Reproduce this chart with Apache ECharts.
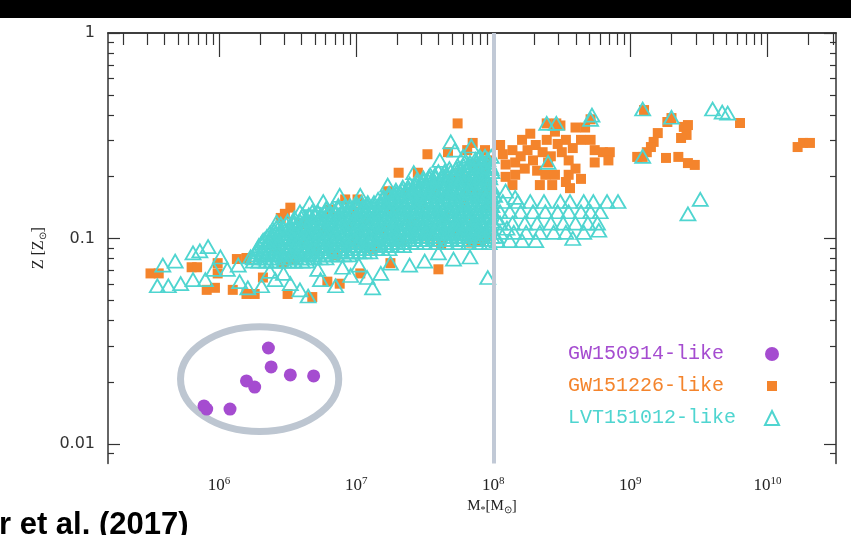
<!DOCTYPE html>
<html>
<head>
<meta charset="utf-8">
<script src="https://cdn.jsdelivr.net/npm/echarts@6/dist/echarts.min.js"></script>
<style>
  html, body { margin: 0; padding: 0; background: #fff; }
  #chart { width: 851px; height: 535px; }
</style>
</head>
<body>
<div id="chart"></div>
<script>
// All positions are log10 values: x = log10(M* / Msun), y = log10(Z / Zsun)
const xRange = [5.19, 10.5];
const yRange = [-2.095, 0];
const xMajorTicks = [6, 7, 8, 9, 10];
const xTickExponents = ['6', '7', '8', '9', '10'];
const yMajorTicks = [0, -1, -2];
const yTickLabels = ['1', '0.1', '0.01'];

// GW150914-like hosts
const gw150914 = [
  [6.36, -1.533], [6.38, -1.625], [6.52, -1.664], [6.69, -1.669],
  [6.20, -1.693], [6.26, -1.723], [5.89, -1.815], [5.91, -1.830], [6.08, -1.830]
];

// GW151226-like hosts
const gw151226 = [
  // low-mass tail
  [5.50, -1.17], [5.56, -1.17], [5.80, -1.14], [5.84, -1.14], [5.99, -1.12], [5.99, -1.17],
  [6.13, -1.10], [6.20, -1.095], [5.91, -1.25], [5.97, -1.24], [6.10, -1.25], [6.20, -1.27],
  [6.26, -1.27], [6.32, -1.19], [6.50, -1.27], [6.68, -1.285], [6.88, -1.22], [6.79, -1.21],
  [7.03, -1.17], [7.25, -1.12], [7.60, -1.15], [7.91, -1.01],
  // upper edge of the main cloud
  [6.52, -0.85], [6.48, -0.88], [6.45, -0.90], [6.81, -0.86], [6.92, -0.81], [7.01, -0.81],
  [7.23, -0.77], [7.31, -0.68], [7.45, -0.68], [7.52, -0.59], [7.67, -0.58], [7.85, -0.535],
  [7.81, -0.57], [7.76, -0.68], [7.80, -0.715], [7.83, -0.755], [7.89, -0.79], [7.74, -0.44],
  [7.94, -0.57], [7.96, -0.62], [7.92, -0.67], [7.87, -0.64], [7.98, -0.74], [7.94, -0.79], [7.98, -0.84],
  // inside the main cloud
  [6.42, -1.06], [6.55, -1.10], [6.62, -1.03], [6.70, -1.06], [6.78, -0.97], [6.85, -1.08],
  [6.93, -0.94], [7.00, -1.02], [7.07, -0.91], [7.12, -1.05], [7.20, -0.96], [7.27, -0.86],
  [7.33, -1.01], [7.40, -0.92], [7.47, -0.83], [7.53, -0.99], [7.58, -0.76], [7.64, -0.90],
  [7.70, -0.71], [7.75, -0.97], [7.79, -0.83], [7.86, -0.93], [7.91, -0.71], [7.95, -0.99],
  [6.60, -0.93], [6.98, -0.87], [7.36, -0.78], [7.62, -1.03], [7.84, -1.02], [6.47, -1.12],
  // cluster just above 1e8 Msun
  [8.05, -0.545], [8.07, -0.59], [8.09, -0.64], [8.09, -0.70], [8.14, -0.57], [8.16, -0.63],
  [8.16, -0.69], [8.14, -0.74], [8.21, -0.52], [8.25, -0.57], [8.27, -0.49], [8.31, -0.545],
  [8.29, -0.62], [8.32, -0.67], [8.38, -0.69], [8.34, -0.74], [8.43, -0.74], [8.45, -0.69],
  [8.39, -0.52], [8.45, -0.48], [8.49, -0.45], [8.53, -0.52], [8.50, -0.58], [8.55, -0.62],
  [8.60, -0.46], [8.64, -0.52], [8.67, -0.46], [8.71, -0.52], [8.74, -0.57], [8.80, -0.58],
  [8.85, -0.58], [8.84, -0.62], [8.74, -0.63], [8.55, -0.69], [8.60, -0.66], [8.64, -0.71],
  [8.56, -0.755], [8.53, -0.725], [8.39, -0.44], [8.46, -0.44], [8.71, -0.42], [8.40, -0.63],
  [8.20, -0.60], [8.23, -0.66], [8.36, -0.58], [8.42, -0.60], [8.47, -0.54], [8.58, -0.56],
  // massive hosts
  [9.10, -0.375], [9.30, -0.414], [9.27, -0.433], [9.39, -0.457], [9.42, -0.448], [9.41, -0.496],
  [9.37, -0.511], [9.20, -0.487], [9.17, -0.53], [9.15, -0.555], [9.12, -0.58], [9.09, -0.603],
  [9.05, -0.603], [9.26, -0.608], [9.35, -0.603], [9.42, -0.633], [9.47, -0.642], [9.80, -0.438],
  [10.22, -0.555], [10.26, -0.535], [10.31, -0.535]
];

// LVT151012-like hosts, densely populated band: [log Z, [log M*, ...]]
const lvtCoreRows = [
  [-0.600, [7.90, 7.94, 7.985]],
  [-0.615, [7.87, 7.915, 7.96]],
  [-0.630, [7.79, 7.83, 7.875, 7.92, 7.965]],
  [-0.645, [7.74, 7.785, 7.83, 7.875, 7.915, 7.96]],
  [-0.660, [7.68, 7.73, 7.765, 7.81, 7.86, 7.895, 7.94, 7.985]],
  [-0.675, [7.60, 7.645, 7.69, 7.735, 7.78, 7.82, 7.865, 7.91, 7.95, 7.99]],
  [-0.690, [7.54, 7.575, 7.63, 7.665, 7.71, 7.76, 7.795, 7.84, 7.89, 7.925, 7.97]],
  [-0.705, [7.49, 7.535, 7.58, 7.625, 7.67, 7.71, 7.755, 7.80, 7.845, 7.89, 7.93, 7.975]],
  [-0.720, [7.44, 7.49, 7.525, 7.57, 7.62, 7.655, 7.70, 7.75, 7.785, 7.83, 7.88, 7.915, 7.96]],
  [-0.735, [7.39, 7.435, 7.48, 7.52, 7.565, 7.61, 7.655, 7.70, 7.74, 7.785, 7.83, 7.875, 7.92, 7.96]],
  [-0.750, [7.34, 7.38, 7.435, 7.47, 7.51, 7.565, 7.60, 7.64, 7.695, 7.73, 7.77, 7.825, 7.86, 7.90, 7.955, 7.99]],
  [-0.765, [7.29, 7.335, 7.38, 7.42, 7.465, 7.51, 7.555, 7.60, 7.64, 7.685, 7.73, 7.775, 7.82, 7.86, 7.905, 7.95, 7.99]],
  [-0.780, [7.24, 7.29, 7.325, 7.37, 7.42, 7.455, 7.50, 7.55, 7.585, 7.63, 7.68, 7.715, 7.76, 7.81, 7.845, 7.89, 7.94, 7.975]],
  [-0.795, [7.20, 7.24, 7.285, 7.33, 7.375, 7.42, 7.46, 7.505, 7.55, 7.595, 7.64, 7.68, 7.725, 7.77, 7.815, 7.86, 7.90, 7.945, 7.985]],
  [-0.810, [7.16, 7.195, 7.25, 7.285, 7.33, 7.38, 7.415, 7.46, 7.51, 7.545, 7.59, 7.64, 7.675, 7.72, 7.77, 7.805, 7.85, 7.90, 7.935, 7.98]],
  [-0.825, [7.00, 7.04, 7.085, 7.13, 7.175, 7.22, 7.26, 7.305, 7.35, 7.395, 7.44, 7.48, 7.525, 7.57, 7.615, 7.66, 7.70, 7.745, 7.79, 7.835, 7.88, 7.92, 7.965]],
  [-0.840, [6.87, 6.92, 6.955, 7.00, 7.05, 7.085, 7.13, 7.18, 7.215, 7.26, 7.31, 7.345, 7.39, 7.44, 7.475, 7.52, 7.57, 7.605, 7.65, 7.70, 7.735, 7.78, 7.83, 7.865, 7.91, 7.96, 7.99]],
  [-0.855, [6.78, 6.825, 6.87, 6.91, 6.955, 7.00, 7.045, 7.09, 7.13, 7.175, 7.22, 7.265, 7.31, 7.35, 7.395, 7.44, 7.485, 7.53, 7.57, 7.615, 7.66, 7.705, 7.75, 7.79, 7.835, 7.88, 7.925, 7.97]],
  [-0.870, [6.68, 6.72, 6.775, 6.81, 6.85, 6.905, 6.94, 6.98, 7.035, 7.07, 7.11, 7.165, 7.20, 7.24, 7.295, 7.33, 7.37, 7.425, 7.46, 7.50, 7.555, 7.59, 7.63, 7.685, 7.72, 7.76, 7.815, 7.85, 7.89, 7.945, 7.98]],
  [-0.885, [6.61, 6.655, 6.70, 6.74, 6.785, 6.83, 6.875, 6.92, 6.96, 7.005, 7.05, 7.095, 7.14, 7.18, 7.225, 7.27, 7.315, 7.36, 7.40, 7.445, 7.49, 7.535, 7.58, 7.62, 7.665, 7.71, 7.755, 7.80, 7.84, 7.885, 7.93, 7.975]],
  [-0.900, [6.55, 6.60, 6.635, 6.68, 6.73, 6.765, 6.81, 6.86, 6.895, 6.94, 6.99, 7.025, 7.07, 7.12, 7.155, 7.20, 7.25, 7.285, 7.33, 7.38, 7.415, 7.46, 7.51, 7.545, 7.59, 7.64, 7.675, 7.72, 7.77, 7.805, 7.85, 7.90, 7.935, 7.98]],
  [-0.915, [6.50, 6.545, 6.59, 6.63, 6.675, 6.72, 6.765, 6.81, 6.85, 6.895, 6.94, 6.985, 7.03, 7.07, 7.115, 7.16, 7.205, 7.25, 7.29, 7.335, 7.38, 7.425, 7.47, 7.51, 7.555, 7.60, 7.645, 7.69, 7.73, 7.775, 7.82, 7.865, 7.91, 7.95, 7.99]],
  [-0.930, [6.45, 6.49, 6.545, 6.58, 6.62, 6.675, 6.71, 6.75, 6.805, 6.84, 6.88, 6.935, 6.97, 7.01, 7.065, 7.10, 7.14, 7.195, 7.23, 7.27, 7.325, 7.36, 7.40, 7.455, 7.49, 7.53, 7.585, 7.62, 7.66, 7.715, 7.75, 7.79, 7.845, 7.88, 7.92, 7.975]],
  [-0.945, [6.42, 6.465, 6.51, 6.555, 6.60, 6.64, 6.685, 6.73, 6.775, 6.82, 6.86, 6.905, 6.95, 6.995, 7.04, 7.08, 7.125, 7.17, 7.215, 7.26, 7.30, 7.345, 7.39, 7.435, 7.48, 7.52, 7.565, 7.61, 7.655, 7.70, 7.74, 7.785, 7.83, 7.875, 7.92, 7.96]],
  [-0.960, [6.40, 6.445, 6.48, 6.53, 6.575, 6.61, 6.66, 6.705, 6.74, 6.79, 6.835, 6.87, 6.92, 6.965, 7.00, 7.05, 7.095, 7.13, 7.18, 7.225, 7.26, 7.31, 7.355, 7.39, 7.44, 7.485, 7.52, 7.57, 7.615, 7.65, 7.70, 7.745, 7.78, 7.83, 7.875, 7.91, 7.96]],
  [-0.975, [6.37, 6.415, 6.46, 6.505, 6.55, 6.59, 6.635, 6.68, 6.725, 6.77, 6.81, 6.855, 6.90, 6.945, 6.99, 7.03, 7.075, 7.12, 7.165, 7.21, 7.25, 7.295, 7.34, 7.385, 7.43, 7.47, 7.515, 7.56, 7.605, 7.65, 7.69, 7.735, 7.78, 7.825, 7.87, 7.91, 7.955]],
  [-0.990, [6.35, 6.39, 6.445, 6.48, 6.52, 6.575, 6.61, 6.65, 6.705, 6.74, 6.78, 6.835, 6.87, 6.91, 6.965, 7.00, 7.04, 7.095, 7.13, 7.17, 7.225, 7.26, 7.30, 7.355, 7.39, 7.43, 7.485, 7.52, 7.56, 7.615, 7.65, 7.69, 7.745, 7.78, 7.82, 7.875, 7.91, 7.95, 7.99]],
  [-1.005, [6.33, 6.375, 6.42, 6.46, 6.505, 6.55, 6.595, 6.64, 6.68, 6.725, 6.77, 6.815, 6.86, 6.90, 6.945, 6.99, 7.035, 7.08, 7.12, 7.165, 7.21, 7.255, 7.30, 7.34, 7.385, 7.43, 7.475, 7.52, 7.56, 7.605, 7.65, 7.695, 7.74, 7.78, 7.825, 7.87, 7.915, 7.96]],
  [-1.020, [6.31, 6.36, 6.395, 6.44, 6.49, 6.525, 6.57, 6.62, 6.655, 6.70, 6.75, 6.785, 6.83, 6.88, 6.915, 6.96, 7.01, 7.045, 7.09, 7.14, 7.175, 7.22, 7.27, 7.305, 7.35, 7.40, 7.44, 7.50, 7.585, 7.66, 7.745, 7.82, 7.90, 7.97]],
  [-1.035, [6.29, 6.335, 6.38, 6.42, 6.465, 6.51, 6.555, 6.60, 6.64, 6.685, 6.73, 6.775, 6.82, 6.86, 6.905, 6.95, 6.995, 7.04, 7.08, 7.125, 7.17, 7.215, 7.26, 7.30, 7.345]],
  [-1.050, [6.28, 6.32, 6.375, 6.41, 6.45, 6.505, 6.54, 6.58, 6.635, 6.67, 6.71, 6.765, 6.80, 6.84, 6.895, 6.93, 6.97, 7.025, 7.06, 7.10, 7.155, 7.19, 7.24]],
  [-1.065, [6.27, 6.315, 6.36, 6.40, 6.445, 6.49, 6.535, 6.58, 6.62, 6.665, 6.71, 6.755, 6.80, 6.84, 6.885, 6.93, 6.975, 7.02, 7.06, 7.10]],
  [-1.080, [6.26, 6.305, 6.34, 6.39, 6.435, 6.47, 6.52, 6.565, 6.60, 6.65, 6.695, 6.73, 6.78, 6.825, 6.86, 6.91, 6.95]],
  [-1.095, [6.25, 6.30, 6.34, 6.385, 6.43, 6.475, 6.52, 6.56, 6.605, 6.65, 6.695, 6.74, 6.78]],
  [-1.110, [6.25, 6.29, 6.345, 6.38, 6.42, 6.475, 6.51, 6.55, 6.605, 6.64]]
];

// LVT151012-like hosts outside the dense band
const lvtScattered = [
  // low-mass tail
  [5.55, -1.23], [5.63, -1.23], [5.72, -1.22], [5.81, -1.20], [5.90, -1.20], [5.59, -1.13],
  [5.68, -1.11], [5.81, -1.07], [5.86, -1.06], [5.92, -1.04], [5.96, -1.15], [6.06, -1.15],
  [6.15, -1.21], [6.14, -1.13], [6.23, -1.09], [6.01, -1.09], [6.21, -1.24], [6.31, -1.23],
  [6.41, -1.20], [6.52, -1.22], [6.65, -1.28], [6.59, -1.25], [6.74, -1.20], [6.85, -1.23],
  [7.08, -1.19], [7.12, -1.24], [7.18, -1.17], [7.25, -1.12], [6.96, -1.18], [7.39, -1.13],
  [7.50, -1.11], [7.71, -1.10], [7.83, -1.09], [7.96, -1.19], [6.72, -1.15], [6.90, -1.14],
  [7.02, -1.13], [7.60, -1.07], [6.37, -1.16], [6.47, -1.17],
  // upper edge of the dense band
  [6.42, -0.92], [6.32, -1.01], [6.66, -0.83], [6.76, -0.82], [6.59, -0.87], [6.88, -0.79],
  [7.03, -0.79], [7.23, -0.74], [7.42, -0.68], [7.53, -0.70], [7.61, -0.62], [7.72, -0.57],
  [7.78, -0.60], [7.89, -0.61], [7.98, -0.65], [7.69, -0.53], [7.84, -0.55],
  // just above 1e8 Msun
  [8.07, -0.82], [8.18, -0.82], [8.27, -0.82], [8.37, -0.82], [8.49, -0.82], [8.56, -0.82],
  [8.66, -0.82], [8.73, -0.82], [8.83, -0.82], [8.91, -0.82],
  [8.05, -0.87], [8.12, -0.87], [8.20, -0.87], [8.29, -0.87], [8.38, -0.87], [8.47, -0.87],
  [8.55, -0.87], [8.64, -0.87], [8.71, -0.87], [8.78, -0.87],
  [8.05, -0.925], [8.14, -0.925], [8.23, -0.925], [8.32, -0.925], [8.42, -0.925], [8.51, -0.925],
  [8.60, -0.925], [8.69, -0.925], [8.76, -0.925],
  [8.05, -0.97], [8.15, -0.97], [8.24, -0.97], [8.34, -0.97], [8.44, -0.97], [8.53, -0.97], [8.66, -0.97],
  [8.03, -1.01], [8.12, -1.01], [8.21, -1.01], [8.31, -1.01], [8.77, -0.96], [8.58, -1.00],
  [8.01, -0.79], [8.09, -0.77], [8.16, -0.80], [8.02, -0.90], [8.10, -0.95], [8.02, -0.99],
  [8.39, -0.44], [8.46, -0.44], [8.71, -0.42], [8.72, -0.40], [8.40, -0.63],
  // massive hosts
  [9.09, -0.37], [9.30, -0.41], [9.09, -0.60], [9.60, -0.37], [9.67, -0.385], [9.71, -0.39],
  [9.42, -0.88], [9.51, -0.81]
];

// Reference mass of 1e8 Msun, and the outline around the GW150914-like group
const massMarker = 8;
const groupOutline = [6.296, -1.684, 0.577, 0.255];

const purple = '#a54cd0';
const orange = '#f4842c';
const cyan = '#4fd5d0';
const frameColor = '#333';

const lvtData = lvtCoreRows
  .flatMap(([z, masses]) => masses.map(m => [m, z]))
  .concat(lvtScattered);

function minorTicks(range) {
  const out = [];
  for (let d = Math.floor(range[0]); d <= Math.ceil(range[1]); d++) {
    for (let k = 2; k < 10; k++) {
      const v = d + Math.log10(k);
      if (v > range[0] && v < range[1]) out.push(v);
    }
  }
  return out;
}

const gridRect = { left: 108, right: 15, top: 33, bottom: 71.5, containLabel: false };
const noSplit = { show: false };
const tickStyle = { color: frameColor, width: 1.2 };

// Frame (grid 0): axis lines, tick labels and axis names, no ticks
function frameAxis(dim, pos) {
  const range = dim === 'x' ? xRange : yRange;
  return {
    type: 'value', gridIndex: 0, position: pos, min: range[0], max: range[1],
    axisLine: { show: true, lineStyle: { color: frameColor, width: 1.5 } },
    axisTick: { show: false }, axisLabel: { show: false }, splitLine: noSplit
  };
}

// Tick rows (grids 1 and 2): each tick axis sits `len` px inside the frame
// with outward ticks of the same length, so the ticks reach in from the frame.
function tickAxis(dim, pos, grid, values, len) {
  const range = dim === 'x' ? xRange : yRange;
  return {
    type: 'value', gridIndex: grid, position: pos, min: range[0], max: range[1],
    offset: -len,
    axisLine: { show: false },
    axisTick: { show: true, inside: false, length: len, customValues: values, lineStyle: tickStyle },
    axisLabel: { show: false }, splitLine: noSplit
  };
}

const xBottom = frameAxis('x', 'bottom');
xBottom.axisLabel = {
  show: true,
  customValues: xMajorTicks,
  margin: 12,
  formatter: v => '{b|10}{s|' + xTickExponents[xMajorTicks.indexOf(Math.round(v))] + '}',
  rich: {
    b: { fontFamily: 'Liberation Serif', fontSize: 17, color: '#222', lineHeight: 20 },
    s: { fontFamily: 'Liberation Serif', fontSize: 11, color: '#222', lineHeight: 20, verticalAlign: 'top' }
  }
};
xBottom.name = '{m|M}{u|*}{m|[M}{u|⊙}{m|]}';
xBottom.nameLocation = 'middle';
xBottom.nameGap = 34;
xBottom.nameTextStyle = {
  padding: [0, 0, 0, 40],
  rich: {
    m: { fontFamily: 'Liberation Serif', fontSize: 15, color: '#222' },
    u: { fontFamily: 'Liberation Serif', fontSize: 10, color: '#222', padding: [8, 0, 0, 0] }
  }
};

const yLeft = frameAxis('y', 'left');
yLeft.axisLabel = {
  show: true,
  customValues: yMajorTicks,
  margin: 13,
  formatter: v => yTickLabels[yMajorTicks.indexOf(Math.round(v))],
  fontFamily: 'DejaVu Sans', fontSize: 16, color: '#333'
};
yLeft.name = '{m|Z [Z}{u|⊙}{m|]}';
yLeft.nameLocation = 'middle';
yLeft.nameGap = 60;
yLeft.nameTextStyle = {
  rich: {
    m: { fontFamily: 'Liberation Serif', fontSize: 16, color: '#222' },
    u: { fontFamily: 'Liberation Serif', fontSize: 10, color: '#222', padding: [8, 0, 0, 0] }
  }
};

const xMinor = minorTicks(xRange);
const yMinor = minorTicks(yRange);

const legendKeys = { 'GW150914-like': 'p', 'GW151226-like': 'o', 'LVT151012-like': 'c' };
const legendFont = { fontFamily: 'Liberation Mono', fontSize: 20, lineHeight: 20, align: 'left' };

const option = {
  animation: false,
  backgroundColor: '#fff',
  grid: [Object.assign({}, gridRect), Object.assign({}, gridRect), Object.assign({}, gridRect)],
  xAxis: [
    xBottom,
    frameAxis('x', 'top'),
    tickAxis('x', 'bottom', 1, xMajorTicks, 12),
    tickAxis('x', 'top', 1, xMajorTicks, 12),
    tickAxis('x', 'bottom', 2, xMinor, 6),
    tickAxis('x', 'top', 2, xMinor, 6)
  ],
  yAxis: [
    yLeft,
    frameAxis('y', 'right'),
    tickAxis('y', 'left', 1, yMajorTicks, 12),
    tickAxis('y', 'right', 1, yMajorTicks, 12),
    tickAxis('y', 'left', 2, yMinor, 6),
    tickAxis('y', 'right', 2, yMinor, 6)
  ],
  legend: {
    orient: 'vertical', left: 563, top: 339, align: 'right',
    itemWidth: 14, itemHeight: 14, itemGap: 12, selectedMode: false,
    formatter: name => '{' + legendKeys[name] + '|' + name + '}',
    textStyle: {
      width: 192, fontFamily: 'Liberation Mono', fontSize: 20, lineHeight: 20,
      rich: {
        p: Object.assign({ color: purple }, legendFont),
        o: Object.assign({ color: orange }, legendFont),
        c: Object.assign({ color: cyan }, legendFont)
      }
    },
    data: [
      { name: 'GW150914-like', icon: 'circle' },
      { name: 'GW151226-like', icon: 'path://M0,0M14,14M2,2L12,2L12,12L2,12Z' },
      { name: 'LVT151012-like', icon: 'triangle' }
    ]
  },
  graphic: [
    { type: 'rect', left: 0, top: 0, shape: { width: 851, height: 18 }, style: { fill: '#000' }, silent: true },
    {
      type: 'text', left: -1, top: 510, silent: true,
      style: { text: 'r et al. (2017)', font: 'bold 31px "Liberation Sans"', fill: '#000' }
    }
  ],
  series: [
    {
      type: 'custom', xAxisIndex: 0, yAxisIndex: 0, silent: true, z: 1,
      data: [groupOutline],
      renderItem: (params, api) => {
        const c = api.coord([api.value(0), api.value(1)]);
        const s = api.size([api.value(2), api.value(3)]);
        return {
          type: 'ellipse',
          shape: { cx: c[0], cy: c[1], rx: s[0], ry: s[1] },
          style: { fill: 'none', stroke: '#bdc6d1', lineWidth: 7 }
        };
      }
    },
    {
      name: 'GW150914-like', type: 'scatter', xAxisIndex: 0, yAxisIndex: 0, z: 3,
      symbol: 'circle', symbolSize: 13, data: gw150914,
      itemStyle: { color: purple, opacity: 1 }
    },
    {
      name: 'GW151226-like', type: 'scatter', xAxisIndex: 0, yAxisIndex: 0, z: 3,
      symbol: 'rect', symbolSize: 10, data: gw151226,
      itemStyle: { color: orange, opacity: 1 }
    },
    {
      name: 'LVT151012-like', type: 'scatter', xAxisIndex: 0, yAxisIndex: 0, z: 4,
      symbol: 'triangle', symbolSize: [15, 13], data: lvtData,
      itemStyle: { color: 'rgba(0,0,0,0)', borderColor: cyan, borderWidth: 1.8, opacity: 1 },
      markLine: {
        silent: true, symbol: 'none', label: { show: false },
        lineStyle: { color: '#c1c9d6', width: 4, type: 'solid' },
        data: [{ xAxis: massMarker }]
      }
    }
  ]
};

const chart = echarts.init(document.getElementById('chart'));
chart.setOption(option);
</script>
</body>
</html>
